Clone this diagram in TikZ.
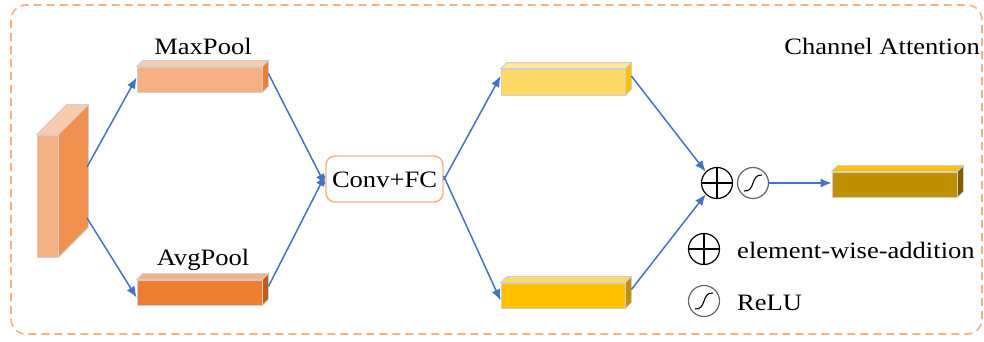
\documentclass[tikz,border=0pt]{standalone}
\usepackage{fontspec}
\setmainfont{Liberation Serif}[FakeStretch=1.13]
\usetikzlibrary{arrows.meta}
\definecolor{cblue}{HTML}{4472C4}
\definecolor{oA}{HTML}{F8CBAD}
\definecolor{oB}{HTML}{F4B183}
\definecolor{oC}{HTML}{F09150}
\definecolor{oD}{HTML}{ED7D31}
\definecolor{oE}{HTML}{C55A11}
\definecolor{yA}{HTML}{FFE699}
\definecolor{yB}{HTML}{FFD966}
\definecolor{yC}{HTML}{FFC000}
\definecolor{yD}{HTML}{BF9000}
\definecolor{yE}{HTML}{7F6000}
\definecolor{edge}{HTML}{D0CECE}
\newcommand{\blkfaces}[4]{% node, depth, top colour, side colour
  \filldraw[fill=#3,draw=edge,line width=0.8pt] (#1.north west) -- ++(#2,-#2) -- ([shift={(#2,-#2)}]#1.north east) -- (#1.north east) -- cycle;
  \filldraw[fill=#4,draw=edge,line width=0.8pt] (#1.north east) -- ++(#2,-#2) -- ([shift={(#2,-#2)}]#1.south east) -- (#1.south east) -- cycle;
}
\begin{document}
\begin{tikzpicture}[x=1pt,y=-1pt,
  every node/.style={font=\fontsize{23.5}{27}\selectfont},
  face/.style={draw=edge,line width=0.8pt,inner sep=0pt,minimum width=#1},
  arr/.style={draw=cblue,line width=1.5pt,-{Latex[length=11pt,width=9pt]}},
  circ/.style={circle,draw,line width=1.2pt,minimum size=31pt,inner sep=0pt},
  sig/.style={circle,draw=black!60,line width=1.2pt,minimum size=31pt,inner sep=0pt}]
\useasboundingbox (0,0) rectangle (984,341);
\draw[oB,line width=1.6pt,dash pattern=on 8pt off 5pt,rounded corners=15pt] (11,5) rectangle (982,334);

% input block
\node[face=21pt,minimum height=122pt,fill=oB] (in) at (47.5,196) {};
\blkfaces{in}{30}{oA}{oC}
% pooled blocks
\node[face=125pt,minimum height=25pt,fill=oB] (mp) at (199.5,79.5) {};
\blkfaces{mp}{6}{oA}{oD}
\node[face=125pt,minimum height=25pt,fill=oD] (ap) at (199.5,292.5) {};
\blkfaces{ap}{6}{oB}{oE}
\node[anchor=base] (mpl) at (203,54) {MaxPool};
\node[anchor=base] (apl) at (203,265) {AvgPool};

% conv
\node[draw=oB,line width=1.4pt,rounded corners=9pt,minimum width=117pt,minimum height=46pt,inner sep=0pt] (cv) at (384.5,179) {};
\node[anchor=base] (cvl) at (384.5,187) {Conv+FC};

% yellow blocks
\node[face=124pt,minimum height=26pt,fill=yB] (yt) at (563,82) {};
\blkfaces{yt}{6}{yA}{yC}
\node[face=124pt,minimum height=25pt,fill=yC] (yb) at (563,295.5) {};
\blkfaces{yb}{6}{yB}{yD}

% operators
\node[circ] (pl) at (717,183) {};
\draw[line width=1.2pt] (pl.north) -- (pl.south) (pl.west) -- (pl.east);
\node[sig] (sg) at (753,183) {};
\draw[line width=1.1pt] ([shift={(-9,8)}]sg.center) .. controls ([shift={(3,9)}]sg.center) and ([shift={(-3,-9)}]sg.center) .. ([shift={(9,-8)}]sg.center);

% output
\node[face=125pt,minimum height=25pt,fill=yD] (out) at (894.5,184.5) {};
\blkfaces{out}{6}{yC}{yE}

% legend
\node[circ] (lp) at (704,249) {};
\draw[line width=1.2pt] (lp.north) -- (lp.south) (lp.west) -- (lp.east);
\node[anchor=base west,inner sep=0pt] (lpt) at (737,258) {element-wise-addition};
\node[sig] (ls) at (704,301) {};
\draw[line width=1.1pt] ([shift={(-9,8)}]ls.center) .. controls ([shift={(3,9)}]ls.center) and ([shift={(-3,-9)}]ls.center) .. ([shift={(9,-8)}]ls.center);
\node[anchor=base west,inner sep=0pt] (lst) at (737,310) {ReLU};

\node[anchor=base east,inner sep=0pt] (title) at (980,54) {Channel Attention};

% connectors
\coordinate (inA) at (87,167);
\coordinate (inB) at (87,218);
\draw[arr] (inA) -- ([yshift=2pt]mp.west);
\draw[arr] (inB) -- ([yshift=-5pt]ap.west);
\draw[arr] ([shift={(6,-6)}]mp.east) -- ([yshift=-6pt]cv.west);
\draw[arr] ([shift={(6,-6)}]ap.east) -- ([yshift=4pt]cv.west);
\draw[arr] ([yshift=-1pt]cv.east) -- ([yshift=6pt]yt.west);
\draw[arr] ([yshift=3pt]cv.east) -- ([yshift=-5pt]yb.west);
\draw[arr] ([shift={(6,-6)}]yt.east) -- (pl.north west);
\draw[arr] ([shift={(6,-6)}]yb.east) -- (pl.south west);
\draw[arr] (sg.east) -- (sg.east -| out.west);
\end{tikzpicture}
\end{document}
